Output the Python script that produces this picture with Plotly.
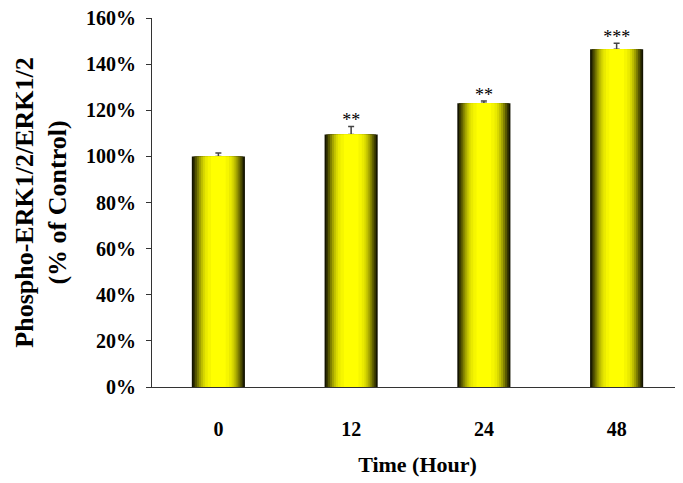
import plotly.graph_objects as go

categories = ["0", "12", "24", "48"]
values = [100, 109.5, 123, 146.5]
errors = [1.5, 3.5, 1.0, 2.5]
stars = ["", "**", "**", "***"]
y_ticks = [0, 20, 40, 60, 80, 100, 120, 140, 160]
y_tick_labels = [f"{v}%" for v in y_ticks]

FONT = "Liberation Serif"
fig = go.Figure()

# layered bars to emulate horizontal gradient (dark edges, bright centre)
layers = [
    (0.40, "#141400"),
    (0.375, "#333300"),
    (0.35, "#575700"),
    (0.32, "#7e7e00"),
    (0.29, "#a2a200"),
    (0.26, "#c0c000"),
    (0.23, "#d8d800"),
    (0.20, "#eaea00"),
    (0.16, "#f6f600"),
    (0.11, "#ffff00"),
]
for i, (w, c) in enumerate(layers):
    err = None
    if i == 0:
        # upper error bars on the bottom layer, so later layers hide the lower cap
        err = dict(type="data", symmetric=False, array=errors, arrayminus=[0] * len(errors),
                   color="#444444", thickness=1.5, width=3)
    fig.add_trace(go.Bar(x=categories, y=values, width=w, marker=dict(color=c, line=dict(width=0)),
                         error_y=err, showlegend=False, hoverinfo="skip"))

# significance stars
star_y = [v + e + 2 for v, e in zip(values, errors)]
fig.add_trace(go.Scatter(x=categories, y=star_y, mode="text", text=stars, textposition="middle center",
                         textfont=dict(family=FONT, size=18, color="black"), showlegend=False, hoverinfo="skip"))

fig.update_layout(
    barmode="overlay",
    width=675, height=475,
    margin=dict(l=144, r=0, t=10, b=96, autoexpand=False),
    paper_bgcolor="white", plot_bgcolor="white",
    font=dict(family=FONT, color="black"),
    xaxis=dict(
        showline=True, linecolor="#333333", linewidth=1, ticks="", showgrid=False, automargin=False,
        tickfont=dict(family=FONT, size=20, color="black"), ticklabelstandoff=24,
        title=dict(text="<b>Time (Hour)</b>", font=dict(family=FONT, size=22), standoff=17),
        tickvals=categories, ticktext=[f"<b>{c}</b>" for c in categories],
    ),
    yaxis=dict(
        range=[0, 160], showline=True, linecolor="#333333", linewidth=1, showgrid=False, automargin=False,
        ticks="outside", ticklen=5, tickcolor="#333333", ticklabelstandoff=6, ticklabeloverflow="allow",
        tickvals=y_ticks, ticktext=[f"<b>{t}</b>" for t in y_tick_labels],
        tickfont=dict(family=FONT, size=20, color="black"), zeroline=False,
        title=dict(text="<b>Phospho-ERK1/2/ERK1/2<br>(% of Control)</b>", font=dict(family=FONT, size=26), standoff=11),
    ),
)

fig.write_html("out.html")
